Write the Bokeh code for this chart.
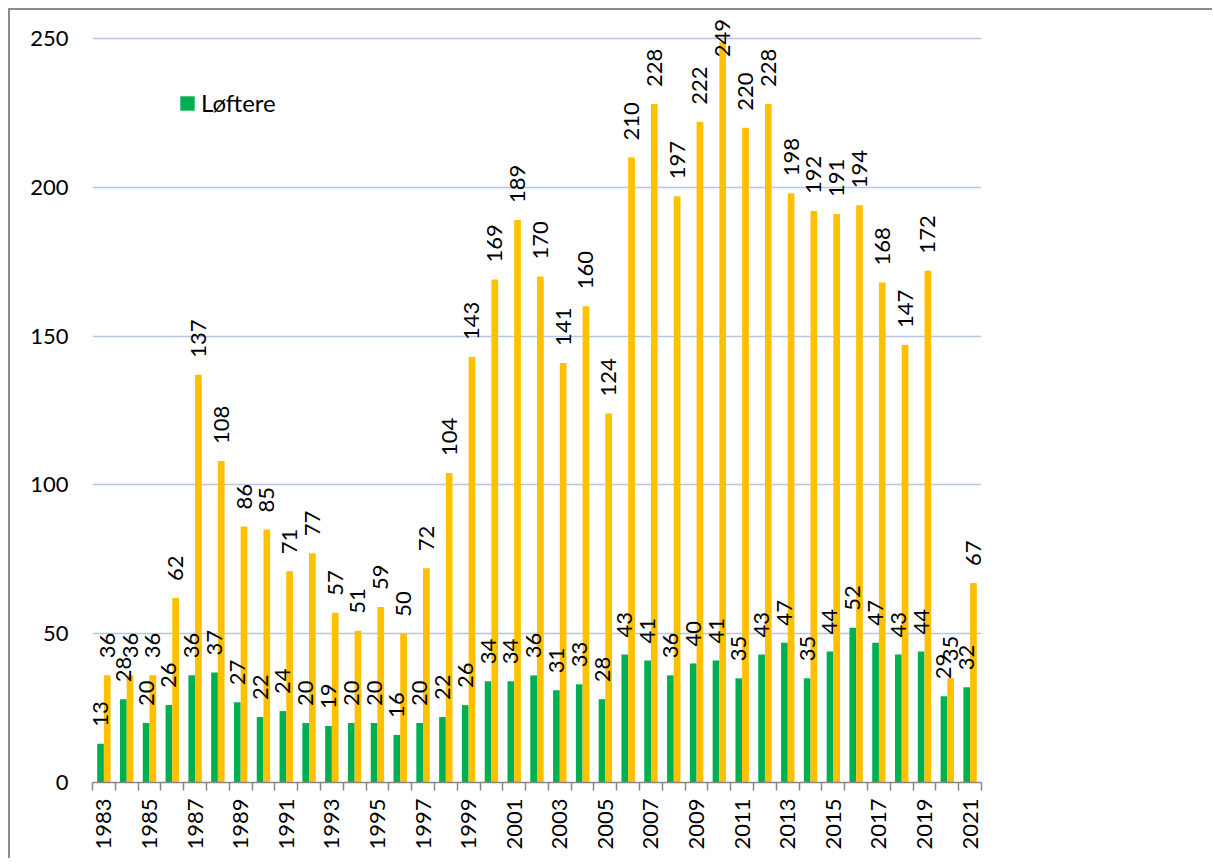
import numpy as np
from math import pi
from bokeh.plotting import figure
from bokeh.models import ColumnDataSource, Range1d, FixedTicker, Legend, LegendItem
from bokeh.transform import dodge
from bokeh.core.properties import value
from bokeh.embed import file_html
from bokeh.resources import INLINE

years = list(range(1983, 2022))
lofters = [13, 28, 20, 26, 36, 37, 27, 22, 24, 20, 19, 20, 20, 16, 20, 22, 26, 34, 34, 36,
           31, 33, 28, 43, 41, 36, 40, 41, 35, 43, 47, 35, 44, 52, 47, 43, 44, 29, 32]
other = [36, 36, 36, 62, 137, 108, 86, 85, 71, 77, 57, 51, 59, 50, 72, 104, 143, 169, 189, 170,
         141, 160, 124, 210, 228, 197, 222, 249, 220, 228, 198, 192, 191, 194, 168, 147, 172, 35, 67]
y_ticks = [0, 50, 100, 150, 200, 250]
legend_label = "Løftere"

FONT = "Lato"
GREEN = "#00B050"
ORANGE = "#FFC000"

src = ColumnDataSource(dict(
    year=years,
    g=lofters,
    o=other,
    g_lab=[str(v) for v in lofters],
    o_lab=[str(v) for v in other],
    o_anchor=list(np.minimum(np.array(other), 238.0)),
))

# canvas placed at page (10, 10) via CSS margin + border
W, H = 1204, 850
p = figure(width=W, height=H, output_backend="svg", toolbar_location=None,
           x_range=Range1d(1982.5, 2021.5), y_range=Range1d(0, 772 / 2.976),
           min_border_left=82, min_border_right=W - 971, min_border_top=0,
           min_border_bottom=H - 772)
p.styles = {"margin-top": "8px", "margin-left": "8px",
            "border-top": "2px solid #8c8c8c", "border-left": "2px solid #8c8c8c",
            "border-right": "none", "border-bottom": "none"}
p.outline_line_color = None
p.background_fill_color = "white"
p.border_fill_color = "white"

bw = 0.294
off = 0.147
rg = p.vbar(x=dodge("year", -off), top="g", width=bw, source=src, color=GREEN, line_color=None)
ro = p.vbar(x=dodge("year", off), top="o", width=bw, source=src, color=ORANGE, line_color=None)

p.text(x=dodge("year", -off), y="g", text="g_lab", source=src, angle=pi / 2,
       text_align="left", text_baseline="middle", y_offset=-17,
       text_font=value(FONT), text_font_size="22px", text_color="black")
p.text(x=dodge("year", off), y="o_anchor", text="o_lab", source=src, angle=pi / 2,
       text_align="left", text_baseline="middle", y_offset=-17,
       text_font=value(FONT), text_font_size="22px", text_color="black")

# y axis
p.yaxis.ticker = FixedTicker(ticks=y_ticks)
p.yaxis.axis_line_color = None
p.yaxis.major_tick_line_color = None
p.yaxis.minor_tick_line_color = None
p.yaxis.major_label_standoff = 18
p.yaxis.major_label_text_font = FONT
p.yaxis.major_label_text_font_size = "22px"
p.yaxis.major_label_text_color = "black"

p.ygrid.ticker = FixedTicker(ticks=y_ticks)
p.ygrid.grid_line_color = "#B4C7E7"
p.ygrid.grid_line_width = 1.5
p.xgrid.grid_line_color = None

# x axis
p.xaxis.ticker = FixedTicker(ticks=years[::2], minor_ticks=[y - 0.5 for y in years] + [years[-1] + 0.5])
p.xaxis.major_label_overrides = {y: str(y) for y in years[::2]}
p.xaxis.major_label_orientation = pi / 2
p.xaxis.axis_line_color = "#868686"
p.xaxis.axis_line_width = 1.5
p.xaxis.major_tick_line_color = None
p.xaxis.minor_tick_line_color = "#868686"
p.xaxis.minor_tick_line_width = 1.5
p.xaxis.minor_tick_out = 8
p.xaxis.minor_tick_in = 0
p.xaxis.major_tick_out = 0
p.xaxis.major_tick_in = 0
p.xaxis.major_label_standoff = 8
p.xaxis.major_label_text_font = FONT
p.xaxis.major_label_text_font_size = "22px"
p.xaxis.major_label_text_color = "black"

legend = Legend(items=[LegendItem(label=legend_label, renderers=[rg])],
                location=(86, 665), orientation="vertical",
                padding=0, margin=0, spacing=0,
                glyph_width=18, glyph_height=18, label_standoff=5,
                label_text_font=FONT, label_text_font_size="24px", label_text_color="black",
                background_fill_alpha=0, border_line_color=None)
p.add_layout(legend)

open("out.html", "w").write(file_html(p, INLINE))
